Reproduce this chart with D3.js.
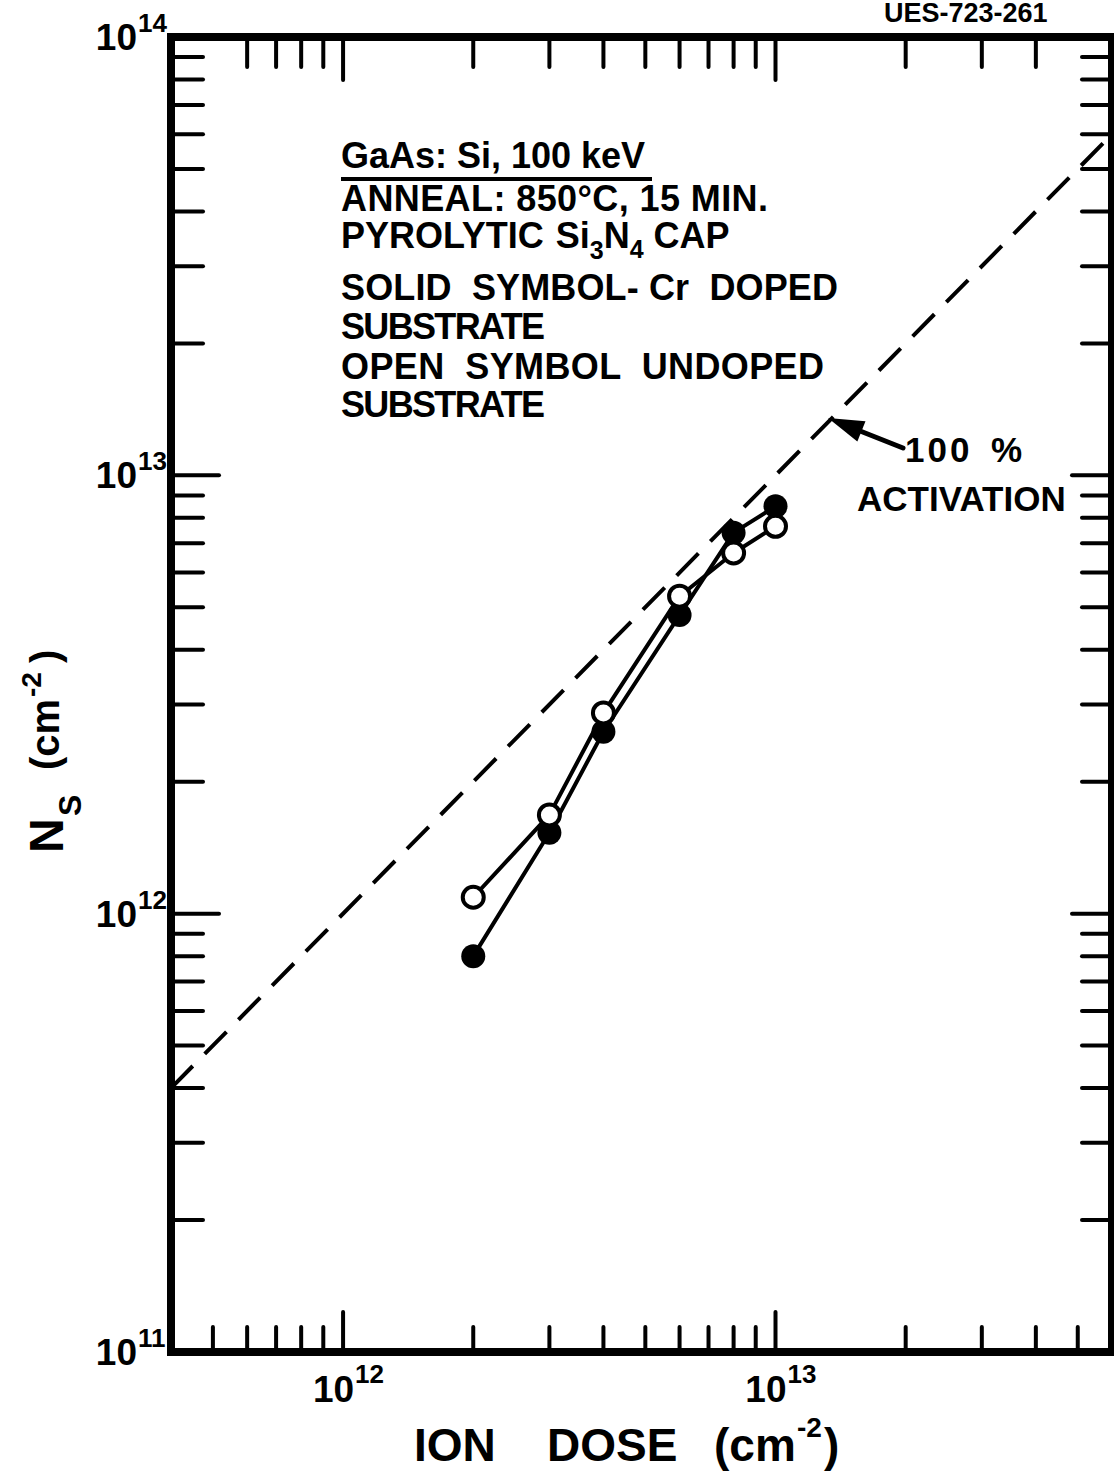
<!DOCTYPE html>
<html>
<head>
<meta charset="utf-8">
<script src="https://cdn.jsdelivr.net/npm/d3@7"></script>
<style>
  html, body { margin: 0; padding: 0; background: #fff; }
  svg { display: block; }
  text { font-family: "Liberation Sans", Arial, sans-serif; font-weight: bold; fill: #000; white-space: pre; }
</style>
</head>
<body>
<svg id="chart" width="1114" height="1472"></svg>
<script>
// Implanted ion dose (cm^-2) for each anneal sample
const doses = [2e12, 3e12, 4e12, 6e12, 8e12, 1e13];
// Sheet carrier concentration Ns (cm^-2)
const crDopedNs = [8.0e11, 1.53e12, 2.6e12, 4.8e12, 7.4e12, 8.5e12];   // solid symbols
const undopedNs = [1.09e12, 1.68e12, 2.87e12, 5.3e12, 6.65e12, 7.65e12]; // open symbols
// 100 % activation reference: Ns equals the dose
const activationDose = [4e11, 6e13];
// Axis extents and decade labels
const xDomain = [4e11, 6e13];
const yDomain = [1e11, 1e14];
const xDecades = [12, 13];
const yDecades = [11, 12, 13, 14];
// Condition notes (third line carries subscripts and is built separately)
const noteLines = [
  "GaAs: Si, 100 keV",
  "ANNEAL: 850°C, 15 MIN.",
  null,
  "SOLID  SYMBOL- Cr  DOPED",
  "SUBSTRATE",
  "OPEN  SYMBOL  UNDOPED",
  "SUBSTRATE"
];

const svg = d3.select("#chart");
const plotL = 171, plotR = 1112, plotT = 37, plotB = 1352;

const x = d3.scaleLog().domain(xDomain).range([plotL, plotR]);
const y = d3.scaleLog().domain(yDomain).range([plotB, plotT]);

const isDecade = v => Math.abs(Math.log10(v) - Math.round(Math.log10(v))) < 1e-9;

// ---- ticks ----
const tickG = svg.append("g").attr("stroke", "#000").attr("stroke-width", 4).attr("stroke-linecap", "round");
const xTicks = x.ticks().filter(v => v > xDomain[0] && v < xDomain[1]);
const yTicks = y.ticks().filter(v => v > yDomain[0] && v < yDomain[1]);

// bottom edge
xTicks.forEach(v => {
  const len = isDecade(v) ? 40 : 25;
  tickG.append("line").attr("x1", x(v)).attr("x2", x(v)).attr("y1", plotB).attr("y2", plotB - len);
});
// top edge (ticks hidden behind the side tick rows are left out)
xTicks.filter(v => v !== 5e11 && v !== 5e13).forEach(v => {
  const len = isDecade(v) ? 43 : 30;
  tickG.append("line").attr("x1", x(v)).attr("x2", x(v)).attr("y1", plotT).attr("y2", plotT + len);
});
// left edge
yTicks.forEach(v => {
  const len = isDecade(v) ? 48 : 32;
  tickG.append("line").attr("x1", plotL).attr("x2", plotL + len).attr("y1", y(v)).attr("y2", y(v));
});
// right edge
yTicks.forEach(v => {
  const len = isDecade(v) ? 40 : 30;
  tickG.append("line").attr("x1", plotR).attr("x2", plotR - len).attr("y1", y(v)).attr("y2", y(v));
});

// ---- frame ----
svg.append("rect")
  .attr("x", plotL).attr("y", plotT)
  .attr("width", plotR - plotL).attr("height", plotB - plotT)
  .attr("fill", "none").attr("stroke", "#000").attr("stroke-width", 8);

// ---- tick labels ----
yDecades.forEach(p => {
  const yy = y(Math.pow(10, p));
  svg.append("text").attr("x", 137).attr("y", yy + 13).attr("text-anchor", "end")
    .attr("font-size", 37).text("10");
  svg.append("text").attr("x", 138).attr("y", yy - 5)
    .attr("font-size", 26).text(String(p));
});
xDecades.forEach(p => {
  const xx = x(Math.pow(10, p));
  svg.append("text").attr("x", xx + 11).attr("y", plotB + 50).attr("text-anchor", "end")
    .attr("font-size", 37).text("10");
  svg.append("text").attr("x", xx + 12).attr("y", plotB + 31)
    .attr("font-size", 26).text(String(p));
});

// ---- axis titles ----
const xt = svg.append("g");
xt.append("text").attr("x", 414).attr("y", 1461).attr("font-size", 46).text("ION");
xt.append("text").attr("x", 547).attr("y", 1461).attr("font-size", 46).text("DOSE");
xt.append("text").attr("x", 714).attr("y", 1461).attr("font-size", 46).text("(cm");
xt.append("text").attr("x", 797).attr("y", 1437).attr("font-size", 28).text("-2");
xt.append("text").attr("x", 824).attr("y", 1461).attr("font-size", 46).text(")");

const yt = svg.append("g").attr("transform", "translate(63,853) rotate(-90)");
yt.append("text").attr("x", 0).attr("y", 0).attr("font-size", 48).text("N");
yt.append("text").attr("x", 37).attr("y", 18).attr("font-size", 32).text("S");
yt.append("text").attr("x", 83).attr("y", -4).attr("font-size", 40).text("(cm");
yt.append("text").attr("x", 156).attr("y", -22).attr("font-size", 28).text("-2");
yt.append("text").attr("x", 190).attr("y", -4).attr("font-size", 40).text(")");

// ---- 100 % activation line ----
const line = d3.line().x(d => x(d[0])).y(d => y(d[1]));
svg.append("path")
  .attr("d", line(activationDose.map(d => [d, d])))
  .attr("fill", "none").attr("stroke", "#000").attr("stroke-width", 4)
  .attr("stroke-dasharray", "31,17");

// ---- data series ----
const crPts = doses.map((d, i) => [d, crDopedNs[i]]);
const unPts = doses.map((d, i) => [d, undopedNs[i]]);
[crPts, unPts].forEach(pts => {
  svg.append("path").attr("d", line(pts))
    .attr("fill", "none").attr("stroke", "#000").attr("stroke-width", 4).attr("stroke-linejoin", "round");
});
svg.append("g").selectAll("circle").data(crPts).join("circle")
  .attr("cx", d => x(d[0])).attr("cy", d => y(d[1])).attr("r", 12).attr("fill", "#000");
svg.append("g").selectAll("circle").data(unPts).join("circle")
  .attr("cx", d => x(d[0])).attr("cy", d => y(d[1])).attr("r", 10.5)
  .attr("fill", "#fff").attr("stroke", "#000").attr("stroke-width", 4);

// ---- notes ----
const noteX = 341;
const noteBaselines = [168, 211, 248, 300, 339, 379, 417];
const noteWidths = [304, 427, null, 497, 204, 483, 204];
noteLines.forEach((t, i) => {
  if (t === null) return;
  svg.append("text").attr("x", noteX).attr("y", noteBaselines[i]).attr("font-size", 36)
    .attr("textLength", noteWidths[i]).attr("lengthAdjust", "spacing").text(t);
});
// underline beneath the first note
svg.append("line").attr("x1", noteX).attr("x2", 652).attr("y1", 179).attr("y2", 179)
  .attr("stroke", "#000").attr("stroke-width", 4);
// cap layer line with chemical subscripts
const capT = svg.append("text").attr("x", noteX).attr("y", noteBaselines[2]).attr("font-size", 36);
capT.append("tspan").text("PYROLYTIC");
capT.append("tspan").attr("dx", 12).text("Si");
capT.append("tspan").attr("font-size", 25).attr("dy", 11).text("3");
capT.append("tspan").attr("dy", -11).text("N");
capT.append("tspan").attr("font-size", 25).attr("dy", 10).text("4");
capT.append("tspan").attr("dx", 10).attr("dy", -10).text("CAP");

// ---- activation callout ----
svg.append("text").attr("x", 905).attr("y", 462).attr("font-size", 35).attr("letter-spacing", 3).text("100");
svg.append("text").attr("x", 991).attr("y", 462).attr("font-size", 35).text("%");
svg.append("text").attr("x", 857).attr("y", 511).attr("font-size", 35).text("ACTIVATION");
const tail = [903, 448], tip = [828, 418];
svg.append("line").attr("x1", tail[0]).attr("y1", tail[1]).attr("x2", 850).attr("y2", 427)
  .attr("stroke", "#000").attr("stroke-width", 5).attr("stroke-linecap", "round");
const ux = (tip[0] - tail[0]), uy = (tip[1] - tail[1]);
const ul = Math.hypot(ux, uy), ex = ux / ul, ey = uy / ul;
const bx = tip[0] - 36 * ex, by = tip[1] - 36 * ey;
svg.append("path")
  .attr("d", `M${tip[0]},${tip[1]} L${bx - 11 * ey},${by + 11 * ex} L${bx + 11 * ey},${by - 11 * ex} Z`)
  .attr("fill", "#000");

// ---- figure id ----
svg.append("text").attr("x", 884).attr("y", 22).attr("font-size", 27).text("UES-723-261");
</script>
</body>
</html>
